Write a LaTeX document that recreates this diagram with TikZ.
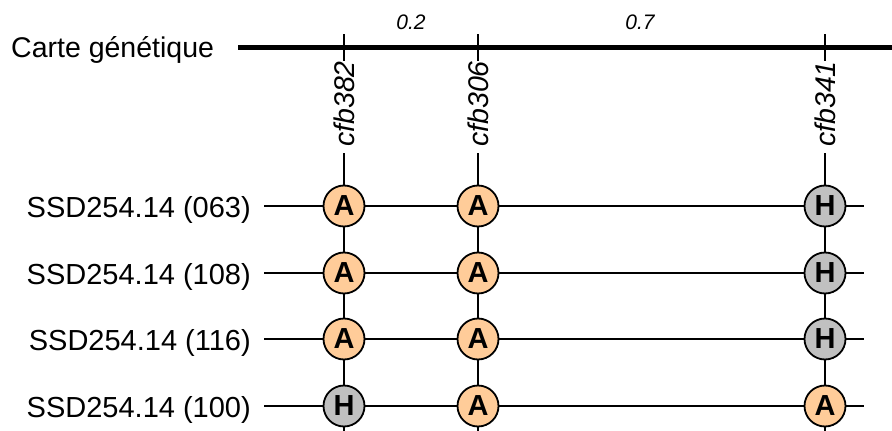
\documentclass[tikz,border=0pt]{standalone}
\usepackage{fontspec}
\setmainfont{Liberation Sans}
\definecolor{orangeA}{HTML}{FFCC99}
\definecolor{grayH}{HTML}{C0C0C0}
\begin{document}
\begin{tikzpicture}[x=1pt,y=-1pt,
  allele/.style={circle,draw=black,line width=1.8pt,minimum size=41pt,inner sep=0pt,font=\fontsize{29}{29}\selectfont\bfseries},
  aa/.style={allele,fill=orangeA},
  hh/.style={allele,fill=grayH},
  rowlabel/.style={anchor=base east,inner sep=0pt,font=\fontsize{29}{31}\selectfont},
  mlabel/.style={rotate=90,anchor=base west,inner sep=0pt,font=\fontsize{28.5}{30}\selectfont\itshape},
  dist/.style={anchor=base,inner sep=0pt,font=\fontsize{21}{23}\selectfont\itshape},
  wire/.style={line width=2pt},
  mapline/.style={line width=5pt}]
\useasboundingbox (0,0) rectangle (892,431);
% genetic map
\node[anchor=base west,inner sep=0pt,font=\fontsize{28.5}{30}\selectfont] (maptitle) at (11,57) {Carte génétique};
\coordinate (mapL) at (238,47);
\coordinate (mapR) at (892,47);
\draw[mapline] (mapL) -- (mapR);
\node[dist] (d1) at (411,30) {0.2};
\node[dist] (d2) at (640,30) {0.7};
% markers
\foreach \name/\x in {m382/344, m306/478, m341/825}{
  \coordinate (\name tt) at (\x,34);
  \coordinate (\name tb) at (\x,61);
  \coordinate (\name vt) at (\x,153);
  \coordinate (\name vb) at (\x,431);
  \draw[wire] (\name tt) -- (\name tb);
  \draw[wire] (\name vt) -- (\name vb);
}
\node[mlabel] (l382) at (354,147) {cfb382};
\node[mlabel] (l306) at (488,147) {cfb306};
\node[mlabel] (l341) at (835,147) {cfb341};
% rows
\foreach \r/\y/\lab in {1/206/063, 2/273/108, 3/339/116, 4/406/100}{
  \coordinate (rL\r) at (264,\y);
  \coordinate (rR\r) at (864,\y);
  \draw[wire] (rL\r) -- (rR\r);
  \node[rowlabel] (lab\r) at (251,\y+11) {SSD254.14 (\lab)};
}
% alleles
\node[aa] (a11) at (344,206) {A};
\node[aa] (a12) at (478,206) {A};
\node[hh] (a13) at (825,206) {H};
\node[aa] (a21) at (344,273) {A};
\node[aa] (a22) at (478,273) {A};
\node[hh] (a23) at (825,273) {H};
\node[aa] (a31) at (344,339) {A};
\node[aa] (a32) at (478,339) {A};
\node[hh] (a33) at (825,339) {H};
\node[hh] (a41) at (344,406) {H};
\node[aa] (a42) at (478,406) {A};
\node[aa] (a43) at (825,406) {A};
\end{tikzpicture}
\end{document}
